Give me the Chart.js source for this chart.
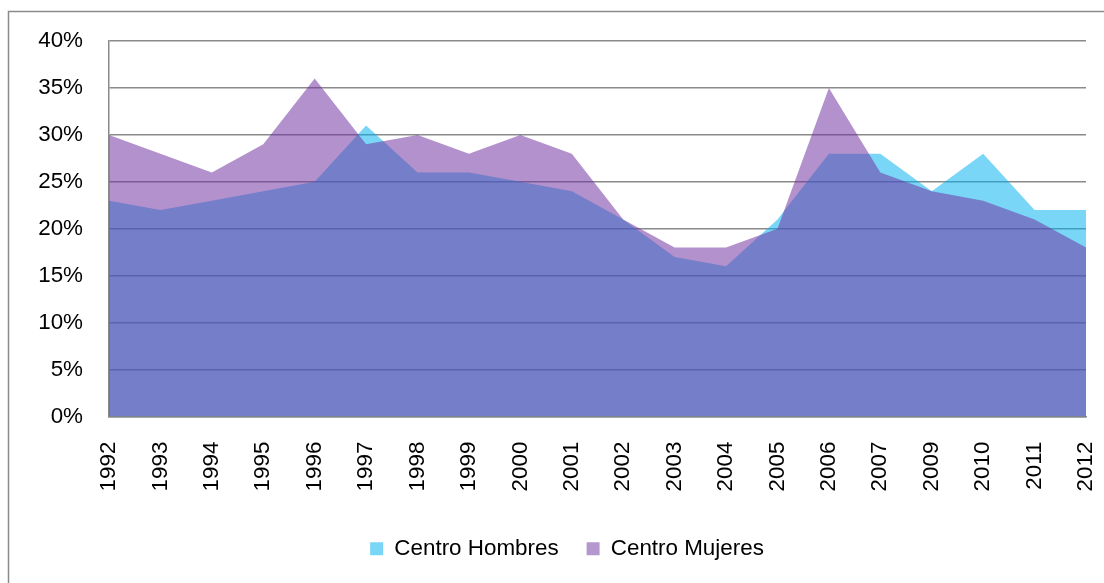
<!DOCTYPE html>
<html>
<head>
<meta charset="utf-8">
<script src="https://cdn.jsdelivr.net/npm/chart.js@4/dist/chart.umd.min.js"></script>
<style>
html,body{margin:0;padding:0;background:#fff;}
#wrap{width:1104px;height:583px;position:relative;}
</style>
</head>
<body>
<div id="wrap"><canvas id="c" width="1104" height="583"></canvas></div>
<script>
const categories = ["1992","1993","1994","1995","1996","1997","1998","1999","2000","2001","2002","2003","2004","2005","2006","2007","2009","2010","2011","2012"];
const hombres = [23,22,23,24,25,31,26,26,25,24,21,17,16,21,28,28,24,28,22,22];
const mujeres = [30,28,26,29,36,29,30,28,30,28,21,18,18,20,35,26,24,23,21,18];
const yTicks = [0,5,10,15,20,25,30,35,40];

const frame = {
  id: 'frame',
  beforeDraw(chart) {
    const ctx = chart.ctx;
    ctx.save();
    ctx.fillStyle = '#fff';
    ctx.fillRect(0, 0, chart.width, chart.height);
    ctx.strokeStyle = '#8a8a8a';
    ctx.lineWidth = 1.5;
    ctx.strokeRect(8.5, 11.5, chart.width + 20, chart.height + 20);
    ctx.restore();
  },
  afterLayout(chart) {
    const lg = chart.legend;
    if (lg) {
      lg.left += 24; lg.right += 24;
    }
  }
};

const FONT = {family: "'Liberation Sans', Arial, sans-serif", size: 22.4};

new Chart(document.getElementById('c'), {
  type: 'line',
  data: {
    labels: categories,
    datasets: [
      {label: 'Centro Hombres', data: hombres, fill: 'origin', order: 2,
       backgroundColor: 'rgba(0,176,240,0.52)', borderWidth: 0, pointRadius: 0, tension: 0},
      {label: 'Centro Mujeres', data: mujeres, fill: 'origin', order: 1,
       backgroundColor: 'rgba(112,48,160,0.53)', borderWidth: 0, pointRadius: 0, tension: 0}
    ]
  },
  options: {
    responsive: false,
    animation: false,
    layout: {padding: {left: 0, right: 18, top: 41, bottom: 13}},
    plugins: {
      legend: {
        position: 'bottom',
        labels: {
          font: FONT, color: '#000', boxWidth: 13, boxHeight: 13, padding: 28,
          generateLabels(chart) {
            return chart.data.datasets.map((d, i) => ({
              text: d.label,
              fillStyle: i === 0 ? 'rgb(122,214,246)' : 'rgb(179,151,206)',
              strokeStyle: 'rgba(0,0,0,0)', lineWidth: 0, hidden: false, datasetIndex: i
            }));
          }
        }
      },
      tooltip: {enabled: false}
    },
    scales: {
      x: {
        grid: {display: false, drawTicks: false},
        border: {display: true, color: '#8a8a8a', width: 1.5},
        ticks: {font: FONT, color: '#000', minRotation: 90, maxRotation: 90, padding: 25, autoSkip: false},
        afterFit(s) { s.height = 93; s.paddingLeft = 0; s.paddingRight = 0; }
      },
      y: {
        min: 0, max: 40,
        afterBuildTicks(s) { s.ticks = yTicks.map(v => ({value: v})); },
        grid: {color: '#8a8a8a', lineWidth: 1.5, drawTicks: false},
        border: {display: true, color: '#8a8a8a', width: 1.5},
        ticks: {font: FONT, color: '#000', padding: 26, callback: v => v + '%'},
        afterFit(s) { s.width = 109; s.paddingTop = 0; s.paddingBottom = 0; }
      }
    }
  },
  plugins: [frame]
});
</script>
</body>
</html>
